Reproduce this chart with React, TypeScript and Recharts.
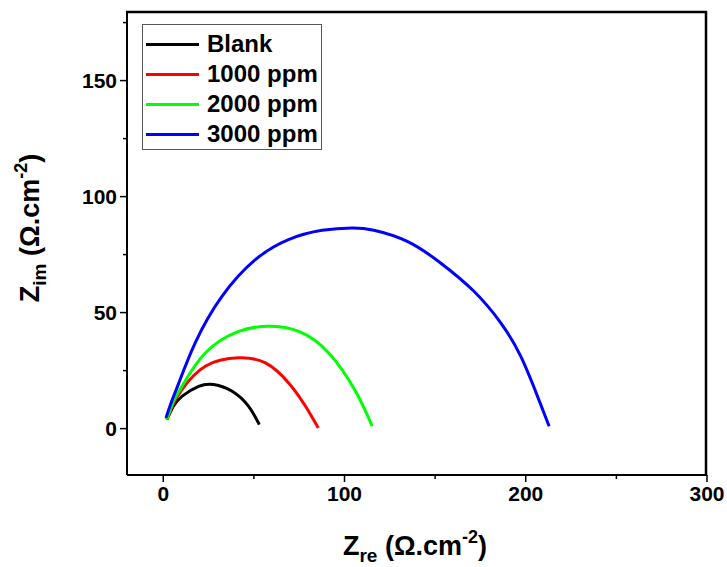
import { Line, LineChart, XAxis, YAxis } from 'recharts';

// Nyquist curves (Zre, Zim in ohm.cm^-2)
const blank = [
  { x: 2.0, y: 3.9 },
  { x: 5.5, y: 9.5 },
  { x: 10.3, y: 13.9 },
  { x: 19.5, y: 18.2 },
  { x: 27.8, y: 19.0 },
  { x: 38.0, y: 16.1 },
  { x: 47.1, y: 9.6 },
  { x: 53.0, y: 1.7 },
];

const ppm1000 = [
  { x: 2.0, y: 3.9 },
  { x: 5.5, y: 10.5 },
  { x: 10.3, y: 16.8 },
  { x: 23.2, y: 26.9 },
  { x: 41.6, y: 30.5 },
  { x: 56.4, y: 28.3 },
  { x: 69.2, y: 19.7 },
  { x: 78.5, y: 9.6 },
  { x: 85.5, y: 0.3 },
];

const ppm2000 = [
  { x: 2.0, y: 3.9 },
  { x: 5.5, y: 11.5 },
  { x: 10.3, y: 18.2 },
  { x: 23.2, y: 32.6 },
  { x: 41.6, y: 41.9 },
  { x: 58.2, y: 44.1 },
  { x: 74.8, y: 41.9 },
  { x: 91.3, y: 32.6 },
  { x: 106.1, y: 16.1 },
  { x: 115.3, y: 1.0 },
];

const ppm3000 = [
  { x: 1.5, y: 4.6 },
  { x: 4.5, y: 11.5 },
  { x: 8.5, y: 19.5 },
  { x: 17.7, y: 37.1 },
  { x: 32.4, y: 57.0 },
  { x: 50.8, y: 72.8 },
  { x: 69.1, y: 81.5 },
  { x: 87.7, y: 85.5 },
  { x: 104.3, y: 86.5 },
  { x: 116.2, y: 85.5 },
  { x: 134.6, y: 80.7 },
  { x: 153.0, y: 71.4 },
  { x: 171.4, y: 59.2 },
  { x: 186.2, y: 45.6 },
  { x: 197.2, y: 31.2 },
  { x: 206.5, y: 13.9 },
  { x: 212.9, y: 1.0 },
];

const xTicks = [0, 50, 100, 150, 200, 250, 300];
const yTicks = [0, 25, 50, 75, 100, 125, 150, 175];

const series = [
  { name: 'Blank', data: blank, color: '#000000' },
  { name: '1000 ppm', data: ppm1000, color: '#ff0000' },
  { name: '2000 ppm', data: ppm2000, color: '#00ff00' },
  { name: '3000 ppm', data: ppm3000, color: '#0000ff' },
];

const font = '"Liberation Sans", Arial, sans-serif';

const XTick = ({ x, y, payload }: any) => {
  const major = payload.value % 100 === 0;
  return (
    <g>
      <line x1={x} x2={x} y1={y} y2={y + (major ? 7 : 4)} stroke="#000" strokeWidth={1.5} />
      {major && (
        <text x={x} y={y + 26} textAnchor="middle" fontSize={21} fontWeight="bold" fontFamily={font} fill="#000">
          {payload.value}
        </text>
      )}
    </g>
  );
};

const YTick = ({ x, y, payload }: any) => {
  const major = payload.value % 50 === 0;
  return (
    <g>
      <line x1={x} x2={x - (major ? 7 : 4)} y1={y} y2={y} stroke="#000" strokeWidth={1.5} />
      {major && (
        <text x={x - 10} y={y + 7} textAnchor="end" fontSize={21} fontWeight="bold" fontFamily={font} fill="#000">
          {payload.value}
        </text>
      )}
    </g>
  );
};

const XLabel = ({ viewBox }: any) => {
  const cx = viewBox.x + viewBox.width / 2 - 2;
  return (
    <text x={cx} y={viewBox.y + 80} textAnchor="middle" fontSize={27} fontWeight="bold" fontFamily={font} fill="#000">
      Z<tspan fontSize={19} dy={7}>re</tspan>
      <tspan dy={-7}> (Ω.cm</tspan>
      <tspan fontSize={18} dy={-12}>-2</tspan>
      <tspan dy={12}>)</tspan>
    </text>
  );
};

const YLabel = () => (
  <text
    x={39}
    y={228}
    transform="rotate(-90 39 228)"
    textAnchor="middle"
    fontSize={27}
    fontWeight="bold"
    fontFamily={font}
    fill="#000"
  >
    Z<tspan fontSize={19} dy={7}>im</tspan>
    <tspan dy={-7}> (Ω.cm</tspan>
    <tspan fontSize={18} dy={-12}>-2</tspan>
    <tspan dy={12}>)</tspan>
  </text>
);

const App = (): React.ReactElement => {
  return (
    <div style={{ position: 'absolute', left: 0, top: 0, width: 727, height: 567, background: '#fff' }}>
      <LineChart width={727} height={567} margin={{ top: 11, right: 20, bottom: 42, left: 67 }}>
        <XAxis
          type="number"
          dataKey="x"
          domain={[-20, 300]}
          ticks={xTicks}
          tick={<XTick />}
          tickLine={false}
          tickSize={0}
          tickMargin={0}
          height={50}
          axisLine={{ stroke: '#000', strokeWidth: 2 }}
          allowDataOverflow
          label={<XLabel />}
        />
        <YAxis
          type="number"
          domain={[-20, 180]}
          ticks={yTicks}
          tick={<YTick />}
          tickLine={false}
          tickSize={0}
          tickMargin={0}
          width={60}
          axisLine={{ stroke: '#000', strokeWidth: 2 }}
          allowDataOverflow
          label={<YLabel />}
        />
        {series.map((s) => (
          <Line
            key={s.name}
            data={s.data}
            dataKey="y"
            name={s.name}
            type="natural"
            stroke={s.color}
            strokeWidth={3}
            dot={false}
            isAnimationActive={false}
          />
        ))}
      </LineChart>
      {/* top and right sides of the plot box */}
      <svg width={727} height={567} style={{ position: 'absolute', left: 0, top: 0, pointerEvents: 'none' }}>
        <path d="M126,12 H706 V476" fill="none" stroke="#000" strokeWidth={2.5} />
      </svg>
      <div
        style={{
          position: 'absolute',
          left: 142,
          top: 24,
          width: 180,
          height: 126,
          border: '1px solid #555',
          boxSizing: 'border-box',
          fontFamily: font,
          fontWeight: 'bold',
          fontSize: 24,
        }}
      >
        {series.map((s, i) => (
          <div key={s.name} style={{ position: 'absolute', left: 0, top: 4 + i * 30, height: 30, display: 'flex', alignItems: 'center' }}>
            <div style={{ width: 53, height: 3, background: s.color, marginLeft: 3 }} />
            <span style={{ marginLeft: 8, lineHeight: '30px', whiteSpace: 'nowrap' }}>{s.name}</span>
          </div>
        ))}
      </div>
    </div>
  );
};

export default App;
